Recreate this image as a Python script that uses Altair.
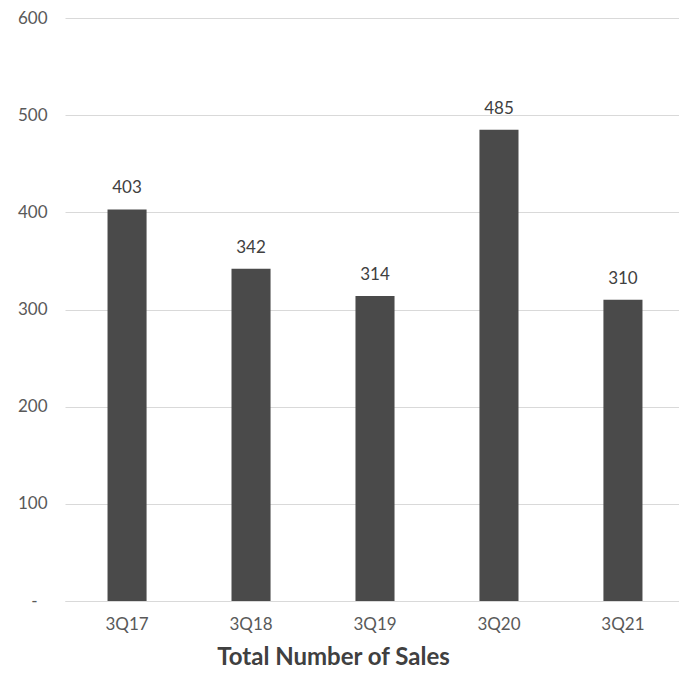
import altair as alt
import pandas as pd

quarters = ["3Q17", "3Q18", "3Q19", "3Q20", "3Q21"]
sales = [403, 342, 314, 485, 310]

df = pd.DataFrame({"quarter": quarters, "sales": sales})

FONT = "Lato"

base = alt.Chart(df).encode(
    x=alt.X(
        "quarter:N",
        sort=quarters,
        title="Total Number of Sales",
        scale=alt.Scale(range=[0, 620], paddingInner=0.685, paddingOuter=0.343),
        axis=alt.Axis(
            labelAngle=0,
            labelFont=FONT,
            labelFontSize=17,
            labelColor="#595959",
            labelPadding=15,
            ticks=False,
            grid=False,
            domain=True,
            domainColor="#d9d9d9",
            titleFont=FONT,
            titleFontSize=24,
            titleFontWeight="bold",
            titleColor="#404040",
            titlePadding=13,
            titleX=268,
        ),
    ),
    y=alt.Y(
        "sales:Q",
        title=None,
        scale=alt.Scale(domain=[0, 600]),
        axis=alt.Axis(
            values=[0, 100, 200, 300, 400, 500, 600],
            labelExpr="datum.value == 0 ? '-' : datum.label",
            labelFont=FONT,
            labelFontSize=17,
            labelColor="#595959",
            labelPadding={"condition": {"test": "datum.value == 0", "value": 28}, "value": 18},
            ticks=False,
            domain=False,
            gridColor="#d9d9d9",
            gridWidth=1,
        ),
    ),
)

bars = base.mark_bar(color="#4a4a4a")
labels = base.mark_text(
    baseline="bottom", dy=-12, font=FONT, fontSize=17, color="#404040"
).encode(text="sales:Q")

chart = (
    (bars + labels)
    .properties(
        width=614,
        height=583,
        autosize=alt.AutoSizeParams(type="none"),
        padding={"left": 57, "top": 10, "right": 0, "bottom": 69},
        background="white",
    )
    .configure_view(strokeWidth=0)
)

chart.save("out.html", embed_options={"renderer": "svg", "actions": False})
